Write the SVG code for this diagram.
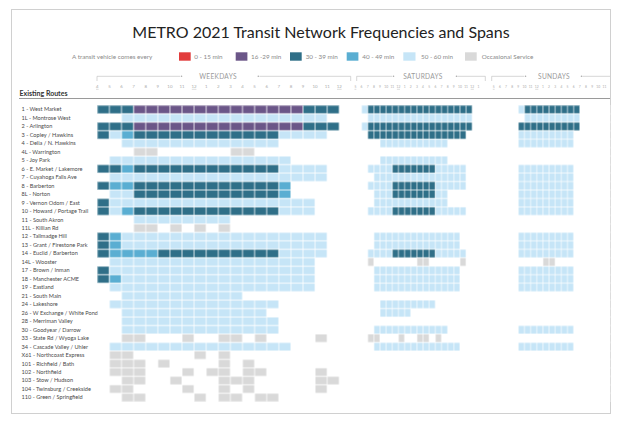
<svg xmlns="http://www.w3.org/2000/svg" width="621" height="421" viewBox="0 0 621 421">
<style>
text{font-family:Lato,"Noto Sans","Liberation Sans",sans-serif}
.d{fill:#2f6f88}.p{fill:#6b5688}.m{fill:#5aaed2}.l{fill:#c6e5f7}.g{fill:#d9d9d9}.r{fill:#e23c3c}
.lg{font-size:6.3px;fill:#8a8a8a}
.rl{font-size:5.6px;fill:#4a4a4a}
.hd{font-size:6.6px;fill:#9a9a9a;letter-spacing:0.3px}
.hw{font-size:4.4px;fill:#aaa;text-anchor:middle}
.hs{font-size:3.3px;fill:#aaa;text-anchor:middle}
.br{stroke:#bbb;stroke-width:0.6;fill:none}
.ul{stroke:#aaa;stroke-width:0.4}
</style>
<defs>
<pattern id="pw" patternUnits="userSpaceOnUse" x="97.3" y="105.3" width="12.1" height="8.47"><path d="M0 0H12.1V8.47H0Z" fill="none" stroke="#fff" stroke-width="0.8"/></pattern>
<pattern id="ps" patternUnits="userSpaceOnUse" x="355.4" y="105.3" width="6.15" height="8.47"><path d="M0 0H6.15V8.47H0Z" fill="none" stroke="#fff" stroke-width="0.7"/></pattern>
<pattern id="pu" patternUnits="userSpaceOnUse" x="493.7" y="105.3" width="6.15" height="8.47"><path d="M0 0H6.15V8.47H0Z" fill="none" stroke="#fff" stroke-width="0.7"/></pattern>
</defs>
<rect x="0" y="0" width="621" height="421" fill="#fff"/>
<rect x="11.5" y="9.5" width="599" height="404" fill="none" stroke="#d0d0d0" stroke-width="1"/>
<g id="title"><text x="321" y="38" text-anchor="middle" font-size="16" fill="#222">METRO 2021 Transit Network Frequencies and Spans</text></g>
<g id="legend">
<text class="lg" x="72" y="59">A transit vehicle comes every</text>
<rect class="r" x="179" y="52.3" width="11.7" height="8.4"/><text class="lg" x="194.3" y="59">0 - 15 min</text>
<rect class="p" x="235.7" y="52.3" width="11.7" height="8.4"/><text class="lg" x="251" y="59">16 -29 min</text>
<rect class="d" x="290" y="52.3" width="11.7" height="8.4"/><text class="lg" x="305.7" y="59">30 - 39 min</text>
<rect class="m" x="346.7" y="52.3" width="11.7" height="8.4"/><text class="lg" x="362.3" y="59">40 - 49 min</text>
<rect class="l" x="403.3" y="52.3" width="12.2" height="8.4"/><text class="lg" x="421" y="59">50 - 60 min</text>
<rect class="g" x="465" y="52.3" width="11.7" height="8.4"/><text class="lg" x="481.7" y="59">Occasional Service</text>
</g>
<g id="headers">
<path class="br" d="M97 81V76.3H180M259.5 76.3H350.7V81M356.7 81V76.3H392M457.5 76.3H485.3V81M491.7 81V76.3H524M582.5 76.3H610"/>
<circle cx="181.5" cy="76.3" r="0.8" fill="#aaa"/><circle cx="258.3" cy="76.3" r="0.8" fill="#aaa"/>
<circle cx="393.5" cy="76.3" r="0.8" fill="#aaa"/><circle cx="456.5" cy="76.3" r="0.8" fill="#aaa"/>
<circle cx="525.5" cy="76.3" r="0.8" fill="#aaa"/><circle cx="581.5" cy="76.3" r="0.8" fill="#aaa"/>
<text class="hd" x="218" y="78.7" text-anchor="middle">WEEKDAYS</text>
<text class="hd" x="423" y="78.7" text-anchor="middle">SATURDAYS</text>
<text class="hd" x="554" y="78.7" text-anchor="middle">SUNDAYS</text>
<g class="hw">
<text x="97.3" y="88.4">4</text><text x="109.4" y="88.4">5</text><text x="121.5" y="88.4">6</text><text x="133.6" y="88.4">7</text><text x="145.7" y="88.4">8</text><text x="157.8" y="88.4">9</text><text x="169.9" y="88.4">10</text><text x="182" y="88.4">11</text><text x="194.1" y="88.4">12</text><text x="206.2" y="88.4">1</text><text x="218.3" y="88.4">2</text><text x="230.4" y="88.4">3</text><text x="242.5" y="88.4">4</text><text x="254.6" y="88.4">5</text><text x="266.7" y="88.4">6</text><text x="278.8" y="88.4">7</text><text x="290.9" y="88.4">8</text><text x="303" y="88.4">9</text><text x="315.1" y="88.4">10</text><text x="327.2" y="88.4">11</text><text x="339.3" y="88.4">12</text>
</g>
<g class="hs">
<text x="355.4" y="88.2">5</text><text x="361.55" y="88.2">6</text><text x="367.7" y="88.2">7</text><text x="373.85" y="88.2">8</text><text x="380" y="88.2">9</text><text x="386.15" y="88.2">10</text><text x="392.3" y="88.2">11</text><text x="398.45" y="88.2">12</text><text x="404.6" y="88.2">1</text><text x="410.75" y="88.2">2</text><text x="416.9" y="88.2">3</text><text x="423.05" y="88.2">4</text><text x="429.2" y="88.2">5</text><text x="435.35" y="88.2">6</text><text x="441.5" y="88.2">7</text><text x="447.65" y="88.2">8</text><text x="453.8" y="88.2">9</text><text x="459.95" y="88.2">10</text><text x="466.1" y="88.2">11</text><text x="472.25" y="88.2">12</text><text x="478.4" y="88.2">1</text>
<text x="493.7" y="88.2">5</text><text x="499.85" y="88.2">6</text><text x="506" y="88.2">7</text><text x="512.15" y="88.2">8</text><text x="518.3" y="88.2">9</text><text x="524.45" y="88.2">10</text><text x="530.6" y="88.2">11</text><text x="536.75" y="88.2">12</text><text x="542.9" y="88.2">1</text><text x="549.05" y="88.2">2</text><text x="555.2" y="88.2">3</text><text x="561.35" y="88.2">4</text><text x="567.5" y="88.2">5</text><text x="573.65" y="88.2">6</text><text x="579.8" y="88.2">7</text><text x="585.95" y="88.2">8</text><text x="592.1" y="88.2">9</text><text x="598.25" y="88.2">10</text><text x="604.4" y="88.2">11</text>
</g>
<path class="ul" d="M96 89.3H98.6M191.8 89.3H196.4M337 89.3H341.6M354.5 89.3H356.3M396.9 89.3H400M470.7 89.3H473.8M492.8 89.3H494.6M535.2 89.3H538.3"/>
<text x="19.5" y="96" font-size="7" font-weight="bold" fill="#333">Existing Routes</text>
<path d="M19 98.5H610" stroke="#9a9a9a" stroke-width="1"/>
</g>
<g id="route-labels" class="rl">
<text x="21.5" y="111.4">1 - West Market</text>
<text x="21.5" y="119.87">1L - Montrose West</text>
<text x="21.5" y="128.34">2 - Arlington</text>
<text x="21.5" y="136.81">3 - Copley / Hawkins</text>
<text x="21.5" y="145.28">4 - Delia / N. Hawkins</text>
<text x="21.5" y="153.75">4L - Warrington</text>
<text x="21.5" y="162.22">5 - Joy Park</text>
<text x="21.5" y="170.69">6 - E. Market / Lakemore</text>
<text x="21.5" y="179.16">7 - Cuyahoga Falls Ave</text>
<text x="21.5" y="187.63">8 - Barberton</text>
<text x="21.5" y="196.1">8L - Norton</text>
<text x="21.5" y="204.57">9 - Vernon Odom / East</text>
<text x="21.5" y="213.04">10 - Howard / Portage Trail</text>
<text x="21.5" y="221.51">11 - South Akron</text>
<text x="21.5" y="229.98">11L - Killian Rd</text>
<text x="21.5" y="238.45">12 - Tallmadge Hill</text>
<text x="21.5" y="246.92">13 - Grant / Firestone Park</text>
<text x="21.5" y="255.39">14 - Euclid / Barberton</text>
<text x="21.5" y="263.86">14L - Wooster</text>
<text x="21.5" y="272.33">17 - Brown / Inman</text>
<text x="21.5" y="280.8">18 - Manchester ACME</text>
<text x="21.5" y="289.27">19 - Eastland</text>
<text x="21.5" y="297.74">21 - South Main</text>
<text x="21.5" y="306.21">24 - Lakeshore</text>
<text x="21.5" y="314.68">26 - W Exchange / White Pond</text>
<text x="21.5" y="323.15">28 - Merriman Valley</text>
<text x="21.5" y="331.62">30 - Goodyear / Darrow</text>
<text x="21.5" y="340.09">33 - State Rd / Wyoga Lake</text>
<text x="21.5" y="348.56">34 - Cascade Valley / Uhler</text>
<text x="21.5" y="357.03">X61 - Northcoast Express</text>
<text x="21.5" y="365.5">101 - Richfield / Bath</text>
<text x="21.5" y="373.97">102 - Northfield</text>
<text x="21.5" y="382.44">103 - Stow / Hudson</text>
<text x="21.5" y="390.91">104 - Twinsburg / Creekside</text>
<text x="21.5" y="399.38">110 - Green / Springfield</text>
</g>
<g id="weekdays" transform="translate(97.3 105.3) scale(12.1 8.47)">
<rect class="d" x="0" y="0" width="3" height="1"/><rect class="p" x="3" y="0" width="14" height="1"/><rect class="d" x="17" y="0" width="3" height="1"/>
<rect class="l" x="2" y="1" width="17" height="1"/>
<rect class="d" x="0" y="2" width="3" height="1"/><rect class="p" x="3" y="2" width="14" height="1"/><rect class="d" x="17" y="2" width="3" height="1"/>
<rect class="d" x="0" y="3" width="1" height="1"/><rect class="l" x="1" y="3" width="1" height="1"/><rect class="m" x="2" y="3" width="1" height="1"/><rect class="d" x="3" y="3" width="12" height="1"/><rect class="l" x="15" y="3" width="4" height="1"/>
<rect class="l" x="2" y="4" width="13" height="1"/>
<rect class="g" x="3" y="5" width="2" height="1"/><rect class="g" x="11" y="5" width="2" height="1"/>
<rect class="l" x="1" y="6" width="15" height="1"/>
<rect class="d" x="0" y="7" width="2" height="1"/><rect class="m" x="2" y="7" width="1" height="1"/><rect class="d" x="3" y="7" width="12" height="1"/><rect class="l" x="15" y="7" width="4" height="1"/>
<rect class="l" x="1" y="8" width="18" height="1"/>
<rect class="d" x="0" y="9" width="1" height="1"/><rect class="m" x="1" y="9" width="2" height="1"/><rect class="d" x="3" y="9" width="12" height="1"/><rect class="m" x="15" y="9" width="1" height="1"/>
<rect class="l" x="1" y="10" width="2" height="1"/><rect class="d" x="3" y="10" width="12" height="1"/><rect class="m" x="15" y="10" width="1" height="1"/>
<rect class="d" x="0" y="11" width="1" height="1"/><rect class="l" x="1" y="11" width="17" height="1"/>
<rect class="d" x="0" y="12" width="1" height="1"/><rect class="l" x="1" y="12" width="1" height="1"/><rect class="m" x="2" y="12" width="1" height="1"/><rect class="d" x="3" y="12" width="12" height="1"/><rect class="l" x="15" y="12" width="3" height="1"/>
<rect class="l" x="3" y="13" width="8" height="1"/>
<rect class="g" x="3" y="14" width="2" height="1"/><rect class="g" x="6" y="14" width="1" height="1"/><rect class="g" x="8" y="14" width="1" height="1"/><rect class="g" x="10" y="14" width="1" height="1"/>
<rect class="d" x="0" y="15" width="1" height="1"/><rect class="m" x="1" y="15" width="1" height="1"/><rect class="l" x="2" y="15" width="17" height="1"/>
<rect class="d" x="0" y="16" width="1" height="1"/><rect class="m" x="1" y="16" width="1" height="1"/><rect class="l" x="2" y="16" width="17" height="1"/>
<rect class="d" x="0" y="17" width="1" height="1"/><rect class="m" x="1" y="17" width="4" height="1"/><rect class="d" x="5" y="17" width="10" height="1"/><rect class="l" x="15" y="17" width="4" height="1"/>
<rect class="l" x="1" y="18" width="17" height="1"/>
<rect class="d" x="0" y="19" width="1" height="1"/><rect class="l" x="1" y="19" width="17" height="1"/>
<rect class="d" x="0" y="20" width="1" height="1"/><rect class="m" x="1" y="20" width="1" height="1"/><rect class="l" x="2" y="20" width="16" height="1"/>
<rect class="l" x="1" y="21" width="17" height="1"/>
<rect class="l" x="2" y="22" width="10" height="1"/>
<rect class="l" x="1" y="23" width="14" height="1"/>
<rect class="l" x="2" y="24" width="12" height="1"/>
<rect class="l" x="2" y="25" width="13" height="1"/>
<rect class="l" x="2" y="26" width="13" height="1"/>
<rect class="g" x="2" y="27" width="2" height="1"/><rect class="g" x="7" y="27" width="1" height="1"/><rect class="g" x="10" y="27" width="2" height="1"/><rect class="g" x="13" y="27" width="1" height="1"/><rect class="g" x="18" y="27" width="1" height="1"/>
<rect class="l" x="1" y="28" width="15" height="1"/>
<rect class="g" x="1" y="29" width="2" height="1"/><rect class="g" x="8" y="29" width="1" height="1"/><rect class="g" x="10" y="29" width="1" height="1"/>
<rect class="g" x="1" y="30" width="3" height="1"/><rect class="g" x="5" y="30" width="1" height="1"/><rect class="g" x="10" y="30" width="1" height="1"/><rect class="g" x="12" y="30" width="1" height="1"/>
<rect class="g" x="1" y="31" width="3" height="1"/><rect class="g" x="7" y="31" width="1" height="1"/><rect class="g" x="9" y="31" width="2" height="1"/><rect class="g" x="12" y="31" width="2" height="1"/><rect class="g" x="18" y="31" width="1" height="1"/>
<rect class="g" x="2" y="32" width="2" height="1"/><rect class="g" x="6" y="32" width="1" height="1"/><rect class="g" x="10" y="32" width="3" height="1"/><rect class="g" x="18" y="32" width="2" height="1"/>
<rect class="g" x="1" y="33" width="2" height="1"/><rect class="g" x="7" y="33" width="1" height="1"/><rect class="g" x="10" y="33" width="1" height="1"/><rect class="g" x="12" y="33" width="1" height="1"/><rect class="g" x="18" y="33" width="1" height="1"/>
<rect class="g" x="2" y="34" width="2" height="1"/><rect class="g" x="8" y="34" width="1" height="1"/><rect class="g" x="10" y="34" width="2" height="1"/><rect class="g" x="13" y="34" width="2" height="1"/>
</g>
<g id="saturdays" transform="translate(355.4 105.3) scale(6.15 8.47)">
<rect class="l" x="1" y="0" width="1" height="1"/><rect class="d" x="2" y="0" width="17" height="1"/>
<rect class="l" x="2" y="1" width="17" height="1"/>
<rect class="l" x="1" y="2" width="1" height="1"/><rect class="d" x="2" y="2" width="17" height="1"/>
<rect class="d" x="2" y="3" width="16" height="1"/>
<rect class="l" x="4" y="4" width="11" height="1"/>
<rect class="l" x="4" y="6" width="11" height="1"/>
<rect class="l" x="2" y="7" width="4" height="1"/><rect class="d" x="6" y="7" width="7" height="1"/><rect class="l" x="13" y="7" width="5" height="1"/>
<rect class="l" x="3" y="8" width="15" height="1"/>
<rect class="l" x="2" y="9" width="4" height="1"/><rect class="d" x="6" y="9" width="7" height="1"/><rect class="l" x="13" y="9" width="5" height="1"/>
<rect class="l" x="3" y="10" width="3" height="1"/><rect class="d" x="6" y="10" width="7" height="1"/><rect class="l" x="13" y="10" width="2" height="1"/>
<rect class="l" x="3" y="11" width="12" height="1"/>
<rect class="l" x="2" y="12" width="4" height="1"/><rect class="d" x="6" y="12" width="7" height="1"/><rect class="l" x="13" y="12" width="5" height="1"/>
<rect class="l" x="3" y="15" width="14" height="1"/>
<rect class="l" x="3" y="16" width="14" height="1"/>
<rect class="l" x="2" y="17" width="4" height="1"/><rect class="d" x="6" y="17" width="7" height="1"/><rect class="l" x="13" y="17" width="5" height="1"/>
<rect class="g" x="2" y="18" width="1" height="1"/><rect class="g" x="10" y="18" width="2" height="1"/><rect class="g" x="17" y="18" width="1" height="1"/>
<rect class="l" x="3" y="19" width="14" height="1"/>
<rect class="l" x="3" y="20" width="14" height="1"/>
<rect class="l" x="3" y="21" width="14" height="1"/>
<rect class="l" x="4" y="23" width="9" height="1"/>
<rect class="l" x="4" y="24" width="5" height="1"/>
<rect class="l" x="3" y="26" width="12" height="1"/>
<rect class="g" x="2" y="27" width="2" height="1"/><rect class="g" x="7" y="27" width="1" height="1"/><rect class="g" x="10" y="27" width="2" height="1"/><rect class="g" x="13" y="27" width="1" height="1"/>
<rect class="l" x="3" y="28" width="14" height="1"/>
</g>
<g id="sundays" transform="translate(493.7 105.3) scale(6.15 8.47)">
<rect class="l" x="4" y="0" width="1" height="1"/><rect class="d" x="5" y="0" width="9" height="1"/>
<rect class="l" x="5" y="1" width="9" height="1"/>
<rect class="d" x="4" y="2" width="10" height="1"/>
<rect class="l" x="4" y="3" width="9" height="2"/>
<rect class="l" x="4" y="7" width="9" height="6"/>
<rect class="l" x="4" y="15" width="9" height="3"/>
<rect class="g" x="8" y="18" width="2" height="1"/>
<rect class="l" x="4" y="19" width="9" height="3"/>
<rect class="l" x="4" y="26" width="9" height="1"/>
<rect class="l" x="4" y="28" width="9" height="1"/>
</g>
<g id="grid-lines">
<rect x="97.3" y="105.3" width="254.1" height="296.45" fill="url(#pw)"/>
<rect x="355.4" y="105.3" width="129.15" height="296.45" fill="url(#ps)"/>
<rect x="493.7" y="105.3" width="117" height="296.45" fill="url(#pu)"/>
</g>
</svg>
